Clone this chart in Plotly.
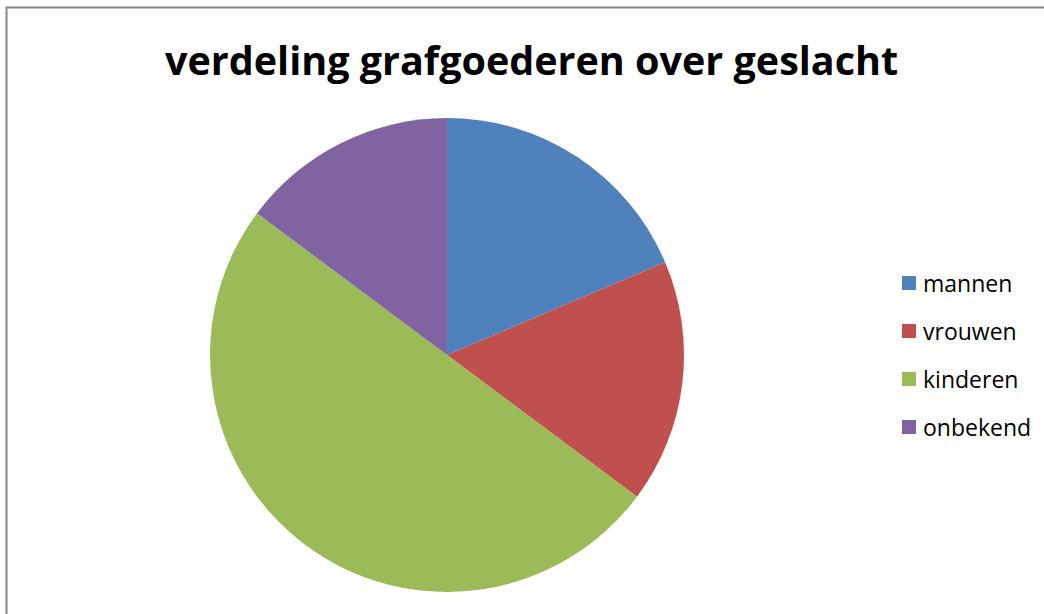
import plotly.graph_objects as go

categories = ["mannen", "vrouwen", "kinderen", "onbekend"]
values = [18.6, 16.6, 50.0, 14.8]
colors = ["#4F81BD", "#C0504D", "#9BBB59", "#8064A2"]
title_text = "verdeling grafgoederen over geslacht"

W, H = 1044, 614
FONT = "Open Sans, Liberation Sans, sans-serif"

fig = go.Figure()
cx, cy, r = 447, 355, 237
fig.add_trace(go.Pie(
    labels=categories,
    values=values,
    sort=False,
    direction="clockwise",
    rotation=0,
    textinfo="none",
    hoverinfo="label+percent",
    marker=dict(colors=colors, line=dict(width=0)),
    domain=dict(x=[(cx - r) / W, (cx + r) / W], y=[(H - cy - r) / H, (H - cy + r) / H]),
    showlegend=False,
))

shapes = [dict(type="rect", xref="paper", yref="paper",
               x0=6.5 / W, x1=1.05, y0=-0.05, y1=1 - 7.5 / H,
               line=dict(color="#868686", width=2), fillcolor="rgba(0,0,0,0)", layer="below")]
annotations = []
for i, (lab, col) in enumerate(zip(categories, colors)):
    yc = 283 + 48 * i
    shapes.append(dict(type="rect", xref="paper", yref="paper",
                       x0=902 / W, x1=916 / W, y0=1 - (yc + 7) / H, y1=1 - (yc - 7) / H,
                       fillcolor=col, line=dict(width=0)))
    annotations.append(dict(text=lab, xref="paper", yref="paper", x=921 / W, y=1 - yc / H,
                            xanchor="left", yanchor="middle", showarrow=False,
                            font=dict(family=FONT, size=23, color="#000000")))

annotations.append(dict(text="<b>" + title_text + "</b>", xref="paper", yref="paper",
                        x=531 / W, y=1 - 60 / H, xanchor="center", yanchor="middle",
                        showarrow=False, font=dict(family=FONT, size=39.5, color="#000000")))

fig.update_layout(
    width=W, height=H,
    margin=dict(l=0, r=0, t=0, b=0),
    paper_bgcolor="white", plot_bgcolor="white",
    shapes=shapes, annotations=annotations,
    showlegend=False,
)
fig.write_html("out.html", config={"displayModeBar": False},
               post_script="document.body.style.margin='0';document.body.style.overflow='hidden';")
